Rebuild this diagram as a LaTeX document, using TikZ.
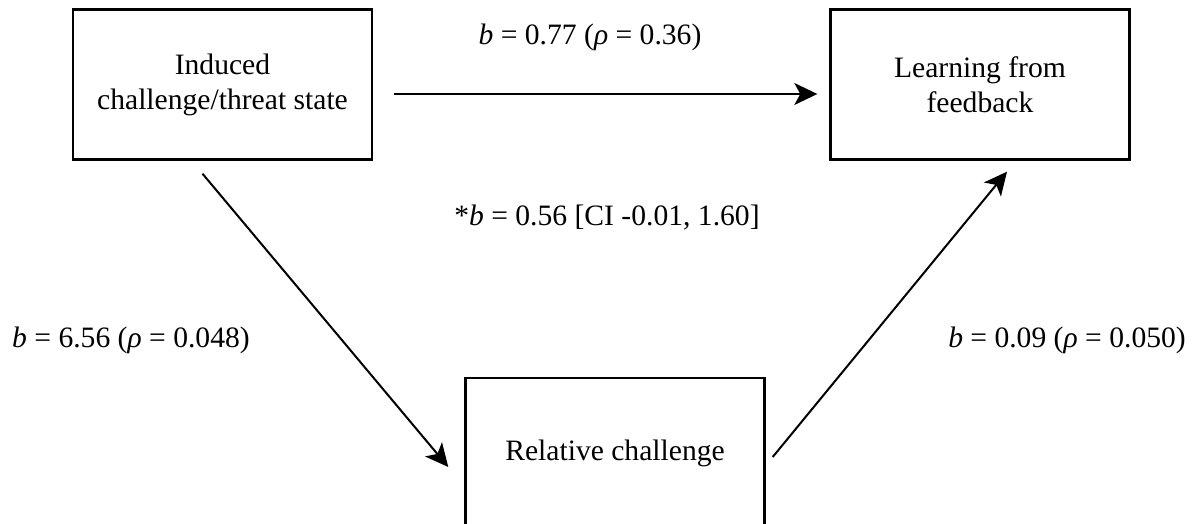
\documentclass[tikz,border=0pt]{standalone}
\usepackage{fontspec}
\setmainfont{Liberation Serif}
\usetikzlibrary{arrows.meta, positioning, calc}

\begin{document}
\begin{tikzpicture}[
    x=0.5pt, y=-0.5pt,
    font=\fontsize{14.8}{17.5}\selectfont,
    box/.style={draw, line width=1.2pt, rectangle, align=center, minimum width=149.5pt, minimum height=75pt, inner sep=0pt},
    arrow/.style={-{Stealth[length=11.5pt, width=11pt, inset=3pt]}, line width=1pt},
    coef/.style={anchor=base, inner sep=0pt}
]
\clip (0,0) rectangle (1194,524);

% Nodes
\node[box] (induced) at (222.5,84.5) {Induced\\challenge/threat state};
\node[box] (learning) at (980,84.5) {Learning from\\feedback};
\node[box] (relative) at (615,453) {Relative challenge};

% Coefficients
\node[coef] (direct) at (590,45) {\textit{b} = 0.77 (\textit{ρ} = 0.36)};
\node[coef] (indirect) at (607,225) {*\textit{b} = 0.56 [CI -0.01, 1.60]};
\node[coef] (apath) at (131,347) {\textit{b} = 6.56 (\textit{ρ} = 0.048)};
\node[coef] (bpath) at (1067,347) {\textit{b} = 0.09 (\textit{ρ} = 0.050)};

% Arrows
\draw[arrow] ($(induced.east)+(21,9.5)$) -- ($(learning.west)+(-12,9.5)$);
\draw[arrow] ($(induced.south)+(-20,13)$) -- ($(relative.west)+(-16,14)$);
\draw[arrow] ($(relative.east)+(7,4)$) -- ($(learning.south)+(27,11)$);

\end{tikzpicture}
\end{document}
